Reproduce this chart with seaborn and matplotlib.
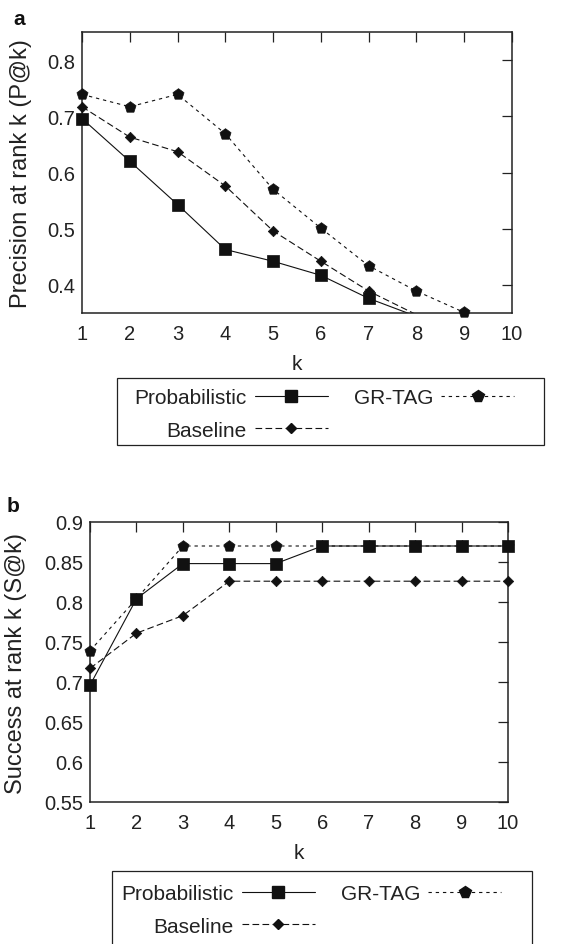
import numpy as np
import pandas as pd
import matplotlib
matplotlib.use("Agg")
import matplotlib.pyplot as plt
import seaborn as sns
from matplotlib.lines import Line2D
from matplotlib.patches import Rectangle
from matplotlib.ticker import StrMethodFormatter

# data
k = list(range(1, 11))

prec_prob = [0.696, 0.620, 0.543, 0.463, 0.442, 0.417, 0.376, 0.344]
prec_base = [0.717, 0.663, 0.637, 0.576, 0.496, 0.442, 0.389, 0.347]
prec_grtag = [0.739, 0.717, 0.739, 0.669, 0.570, 0.501, 0.434, 0.389, 0.351]

succ_prob = [0.696, 0.804, 0.848, 0.848, 0.848, 0.870, 0.870, 0.870, 0.870, 0.870]
succ_base = [0.717, 0.761, 0.783, 0.826, 0.826, 0.826, 0.826, 0.826, 0.826, 0.826]
succ_grtag = [0.739, 0.804, 0.870, 0.870, 0.870, 0.870, 0.870, 0.870, 0.870, 0.870]

methods = ["Probabilistic", "Baseline", "GR-TAG"]

sns.set_theme(style="white")
plt.rcParams["font.family"] = ["Liberation Sans", "DejaVu Sans"]

TICK_FS = 14.5
LEG_FS = 15
YLAB_FS = 17
XLAB_FS = 15
txt = "#222222"
W, H = 581, 945

styles = {
    "Probabilistic": dict(ls="-", marker="s", ms=8.6),
    "Baseline": dict(ls=(0, (6, 3)), marker="D", ms=5.3),
    "GR-TAG": dict(ls=(0, (3, 3.5)), marker="p", ms=8.4),
}
lw = 0.8
col = "#111111"


def draw_panel(ax, series, ylim, yticks, ylabel, ylab_x, xlab_y, letter, letter_xy):
    for name in methods:
        vals = series[name]
        df = pd.DataFrame({"k": k[:len(vals)], "v": vals})
        st = styles[name]
        sns.lineplot(data=df, x="k", y="v", ax=ax, color=col, lw=lw,
                     linestyle=st["ls"], legend=False)
        # gnuplot-style: only in-range points get a marker, drawn unclipped
        inside = df[df["v"] >= ylim[0] - 0.002]
        sns.scatterplot(data=inside, x="k", y="v", ax=ax, color=col,
                        marker=st["marker"], s=st["ms"] ** 2,
                        edgecolor=col, linewidth=0.5, legend=False, zorder=5)
    for c in ax.collections:
        c.set_clip_on(False)
    ax.set_xlim(1, 10)
    ax.set_ylim(*ylim)
    ax.set_xticks(k)
    ax.set_yticks(yticks)
    ax.yaxis.set_major_formatter(StrMethodFormatter("{x:g}"))
    ax.tick_params(direction="in", length=7, width=0.9, top=True, right=True,
                   color=txt, labelsize=TICK_FS, labelcolor=txt)
    ax.tick_params(axis="x", pad=8)
    ax.tick_params(axis="y", pad=5)
    for sp in ax.spines.values():
        sp.set_color(txt)
        sp.set_linewidth(1.1)
    ax.set_xlabel("k", fontsize=XLAB_FS, color=txt)
    ax.set_ylabel(ylabel, fontsize=YLAB_FS, color=txt)
    ax.xaxis.set_label_coords(0.5, xlab_y)
    ax.yaxis.set_label_coords(ylab_x, 0.5)
    fig.text(letter_xy[0] / W, 1 - letter_xy[1] / H, letter, fontsize=15,
             fontweight="bold", ha="left", va="baseline", color="#111111")


def add_legend(content_xy, box):
    handles = []
    for name in methods:
        st = styles[name]
        handles.append(Line2D([0], [0], color=col, lw=lw, linestyle=st["ls"],
                              marker=st["marker"], markersize=st["ms"],
                              markerfacecolor=col, markeredgecolor=col))
    leg = fig.legend(handles, methods, ncol=2, markerfirst=False,
                     loc="upper left",
                     bbox_to_anchor=(content_xy[0] / W, 1 - content_xy[1] / H),
                     fontsize=LEG_FS, frameon=False,
                     handlelength=3.5, handletextpad=0.4,
                     columnspacing=1.25, labelspacing=0.65, borderpad=0,
                     borderaxespad=0)
    for t in leg.get_texts():
        t.set_color(txt)
    x0, y0, x1, y1 = box
    fig.patches.append(Rectangle((x0 / W, 1 - y1 / H), (x1 - x0) / W, (y1 - y0) / H,
                                 transform=fig.transFigure, fill=False,
                                 edgecolor=txt, linewidth=0.9))


fig = plt.figure(figsize=(W / 100, H / 100), dpi=100)
ax_a = fig.add_axes([82 / W, 1 - 314 / H, 430 / W, 281 / H])
ax_b = fig.add_axes([90 / W, 1 - 803 / H, 418 / W, 280 / H])

draw_panel(ax_a,
           {"Probabilistic": prec_prob, "Baseline": prec_base, "GR-TAG": prec_grtag},
           (0.35, 0.85), [0.4, 0.5, 0.6, 0.7, 0.8], "Precision at rank k (P@k)",
           -0.116, -0.145, "a", (13, 25))
add_legend((134, 389), (117, 379, 544, 446))

draw_panel(ax_b,
           {"Probabilistic": succ_prob, "Baseline": succ_base, "GR-TAG": succ_grtag},
           (0.55, 0.9), [0.55, 0.6, 0.65, 0.7, 0.75, 0.8, 0.85, 0.9],
           "Success at rank k (S@k)", -0.151, -0.146, "b", (7, 512))
add_legend((121, 885), (112, 872, 532, 948))

fig.savefig("out.png", dpi=100)
